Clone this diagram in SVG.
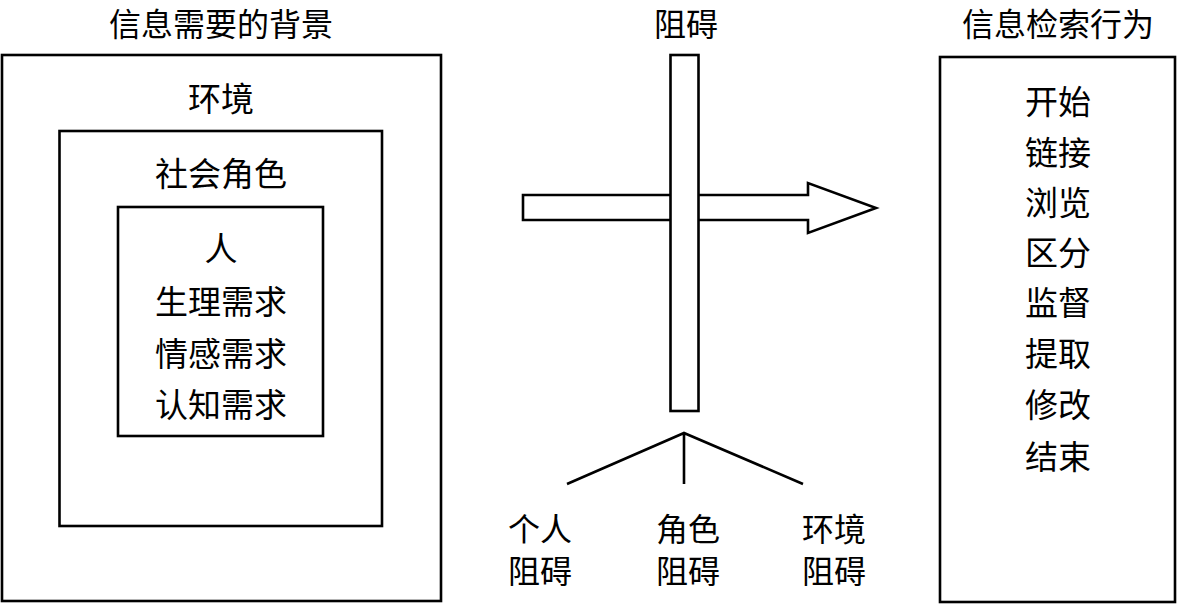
<svg xmlns="http://www.w3.org/2000/svg" width="1177" height="605" viewBox="0 0 1177 605">
<style>
.box{fill:#fff;stroke:#000;stroke-width:2.6}
.ln{fill:none;stroke:#000;stroke-width:2.6}
text{font-family:"Noto Sans CJK SC","Noto Sans",sans-serif;font-size:33px;fill:#000;text-anchor:middle;dominant-baseline:central}
.t{font-size:32px}
.b{font-size:32px}
</style>
<rect width="1177" height="605" fill="#fff"/>
<g id="background">
<text class="t" x="221" y="22">信息需要的背景</text>
<rect class="box" x="2" y="55" width="439" height="546"/>
<text x="221" y="97">环境</text>
</g>
<g id="social-role">
<rect class="box" x="59.5" y="131" width="322.5" height="395"/>
<text x="221" y="172">社会角色</text>
</g>
<g id="person">
<rect class="box" x="118" y="207" width="205" height="229"/>
<text x="221" y="247">人</text>
<text x="221" y="300">生理需求</text>
<text x="221" y="352">情感需求</text>
<text x="221" y="403">认知需求</text>
</g>
<g id="connectors">
<polygon class="box" points="523,195 808,195 808,183 876,208 808,233 808,220 523,220"/>
<path class="ln" d="M567,484 L684,433 L803,484 M684,433 L684,484"/>
</g>
<g id="barrier">
<text class="t" x="686" y="22">阻碍</text>
<rect class="box" x="670.5" y="55" width="28" height="356"/>
</g>
<g id="personal-barrier">
<text class="b" x="540" y="527">个人</text>
<text class="b" x="540" y="569">阻碍</text>
</g>
<g id="role-barrier">
<text class="b" x="688" y="527">角色</text>
<text class="b" x="688" y="569">阻碍</text>
</g>
<g id="env-barrier">
<text class="b" x="834" y="527">环境</text>
<text class="b" x="834" y="569">阻碍</text>
</g>
<g id="behavior">
<text class="t" x="1058" y="22">信息检索行为</text>
<rect class="box" x="940" y="57" width="235" height="545"/>
<text x="1058" y="100">开始</text>
<text x="1058" y="151">链接</text>
<text x="1058" y="201">浏览</text>
<text x="1058" y="251">区分</text>
<text x="1058" y="301">监督</text>
<text x="1058" y="352">提取</text>
<text x="1058" y="403">修改</text>
<text x="1058" y="455">结束</text>
</g>
</svg>
